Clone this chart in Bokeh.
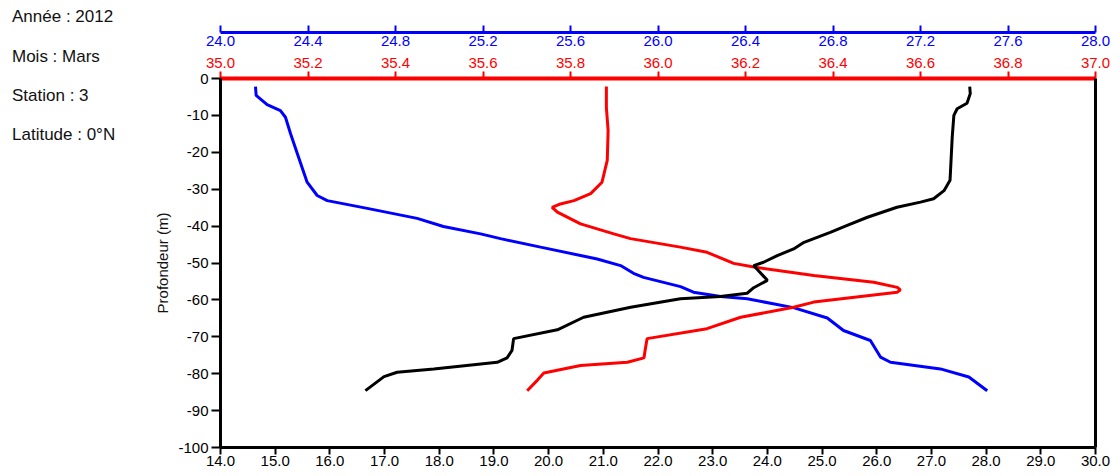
from bokeh.plotting import figure
from bokeh.layouts import row
from bokeh.models import Range1d, LinearAxis, FixedTicker, PrintfTickFormatter, Div
from bokeh.embed import file_html
from bokeh.resources import INLINE

# ---- data ----
temp_depth = [-2.2, -4.1, -6.7, -8.2, -10.0, -15.9, -27.6, -30.4, -32.6, -33.5, -34.9, -37.6, -39.8,
              -41.7, -44.4, -46.2, -48.0, -49.8, -50.7, -54.7, -56.7, -58.2, -59.1, -59.7, -62.0,
              -64.7, -68.1, -70.5, -73.7, -75.7, -76.9, -78.7, -79.6, -80.8, -84.6]
temp = [27.70, 27.71, 27.65, 27.47, 27.41, 27.38, 27.34, 27.23, 27.04, 26.80, 26.37, 25.83, 25.46,
        25.15, 24.67, 24.48, 24.18, 23.93, 23.75, 24.00, 23.75, 23.63, 23.14, 22.41, 21.50,
        20.64, 20.16, 19.36, 19.33, 19.24, 19.06, 17.90, 17.23, 16.99, 16.65]

sal_depth = [-2.2, -7.8, -14.1, -22.2, -28.1, -31.2, -33.1, -34.0, -34.9, -36.2, -39.4, -42.1, -43.4,
             -45.7, -47.1, -50.1, -51.1, -53.4, -55.2, -56.6, -57.3, -57.9, -60.6, -62.0, -64.7,
             -67.8, -70.5, -73.3, -75.7, -76.9, -77.8, -79.8, -81.8, -84.6]
sal = [35.882, 35.882, 35.886, 35.884, 35.872, 35.846, 35.808, 35.777, 35.758, 35.770, 35.823, 35.899,
       35.937, 36.051, 36.112, 36.173, 36.219, 36.356, 36.493, 36.547, 36.554, 36.547, 36.356, 36.310,
       36.189, 36.112, 35.975, 35.971, 35.968, 35.930, 35.823, 35.739, 35.724, 35.701]

sig_depth = [-2.2, -4.6, -7.1, -8.7, -10.5, -14.9, -20.3, -28.1, -31.7, -33.1, -35.2, -37.9, -40.1,
             -42.1, -43.4, -45.7, -48.9, -50.7, -52.8, -53.9, -56.4, -57.9, -59.1, -59.7, -62.1,
             -64.9, -68.3, -71.0, -75.5, -76.9, -78.7, -80.9, -84.6]
sig = [24.160, 24.163, 24.213, 24.274, 24.297, 24.320, 24.351, 24.396, 24.442, 24.488, 24.671, 24.899,
       25.019, 25.189, 25.280, 25.463, 25.722, 25.829, 25.888, 25.934, 26.103, 26.162, 26.286, 26.408,
       26.619, 26.774, 26.848, 26.971, 27.017, 27.063, 27.291, 27.421, 27.505]

temp_ticks = [14.0, 15.0, 16.0, 17.0, 18.0, 19.0, 20.0, 21.0, 22.0, 23.0, 24.0, 25.0, 26.0, 27.0, 28.0, 29.0, 30.0]
sal_ticks = [35.0, 35.2, 35.4, 35.6, 35.8, 36.0, 36.2, 36.4, 36.6, 36.8, 37.0]
sig_ticks = [24.0, 24.4, 24.8, 25.2, 25.6, 26.0, 26.4, 26.8, 27.2, 27.6, 28.0]
depth_ticks = [0, -10, -20, -30, -40, -50, -60, -70, -80, -90, -100]
info_lines = ["Année : 2012", "Mois : Mars", "Station : 3", "Latitude : 0°N"]

FONT = "Liberation Sans"
BLUE = "#0000ff"
RED = "#ff0000"

SIDE_W = 150            # width of the left info panel
TOTAL_H = 474
FRAME_L, FRAME_T, FRAME_W, FRAME_H = 220, 78, 875, 369

# ---- left info panel (text only) ----
rows_html = []
for i, t in enumerate(info_lines):
    if i == 0:
        style = "height:36.5px;line-height:34px;"
    else:
        style = "height:39px;line-height:39px;"
    rows_html.append(f'<div style="{style}white-space:nowrap;">{t}</div>')
info = Div(text="".join(rows_html), width=SIDE_W, height=TOTAL_H,
           styles={"font-family": "'Liberation Sans', Arial, sans-serif", "font-size": "17px",
                   "color": "#111111", "padding-left": "12px", "margin": "0", "box-sizing": "border-box"})

# ---- main chart ----
p = figure(frame_width=FRAME_W, frame_height=FRAME_H,
           x_range=Range1d(14, 30), y_range=Range1d(-100, 0),
           output_backend="svg", toolbar_location=None,
           min_border_left=FRAME_L - SIDE_W, min_border_right=17,
           min_border_top=FRAME_T, min_border_bottom=TOTAL_H - FRAME_T - FRAME_H)
p.extra_x_ranges = {"sal": Range1d(35, 37), "sig": Range1d(24, 28)}
p.outline_line_color = None
p.xgrid.visible = False
p.ygrid.visible = False
p.background_fill_color = "white"
p.border_fill_color = "white"

def style_axis(ax, color, lw=3):
    ax.axis_line_color = color
    ax.axis_line_width = lw
    ax.major_tick_line_color = color
    ax.major_tick_line_width = 2
    ax.major_tick_out = 7
    ax.major_tick_in = 0
    ax.minor_tick_line_color = None
    ax.major_label_text_color = color
    ax.major_label_text_font = FONT
    ax.major_label_text_font_size = "15px"

# bottom (temperature)
bx = p.below[0]
style_axis(bx, "black")
bx.ticker = FixedTicker(ticks=temp_ticks)
bx.formatter = PrintfTickFormatter(format="%.1f")
bx.major_label_standoff = 1

# left (depth)
ly = p.left[0]
style_axis(ly, "black")
ly.major_tick_out = 9
ly.ticker = FixedTicker(ticks=depth_ticks)
ly.formatter = PrintfTickFormatter(format="%d")
ly.major_label_standoff = 3
ly.axis_label = "Profondeur (m)"
ly.axis_label_text_font = FONT
ly.axis_label_text_font_size = "15px"
ly.axis_label_text_font_style = "normal"
ly.axis_label_text_color = "#111111"
ly.axis_label_standoff = 4

# right frame line
ry = LinearAxis(ticker=FixedTicker(ticks=[]), major_label_text_font_size="1px",
                major_label_text_color=None,
                axis_line_width=3, axis_line_color="black",
                major_tick_out=0, major_tick_in=0, minor_tick_out=0, minor_tick_in=0)
p.add_layout(ry, "right")

# top: salinity (red), innermost
sal_ax = LinearAxis(x_range_name="sal", ticker=FixedTicker(ticks=sal_ticks),
                    formatter=PrintfTickFormatter(format="%.1f"))
style_axis(sal_ax, RED, lw=4)
sal_ax.major_label_standoff = 4
p.add_layout(sal_ax, "above")

# top: density labels (blue), labels only
sig_lab = LinearAxis(x_range_name="sig", ticker=FixedTicker(ticks=sig_ticks),
                     formatter=PrintfTickFormatter(format="%.1f"))
style_axis(sig_lab, BLUE)
sig_lab.axis_line_color = None
sig_lab.major_tick_line_color = None
sig_lab.major_tick_out = 0
sig_lab.major_label_standoff = 9
p.add_layout(sig_lab, "above")

# top: density line + ticks (blue), no labels
sig_line = LinearAxis(x_range_name="sig", ticker=FixedTicker(ticks=sig_ticks))
style_axis(sig_line, BLUE)
sig_line.major_label_text_font_size = "1px"
sig_line.major_label_text_color = None
sig_line.major_label_standoff = 0
p.add_layout(sig_line, "above")

# curves
p.line(sig, sig_depth, x_range_name="sig", line_color=BLUE, line_width=3)
p.line(sal, sal_depth, x_range_name="sal", line_color=RED, line_width=3)
p.line(temp, temp_depth, line_color="black", line_width=3)

layout = row(info, p, spacing=0)
open("out.html", "w").write(file_html(layout, INLINE))
